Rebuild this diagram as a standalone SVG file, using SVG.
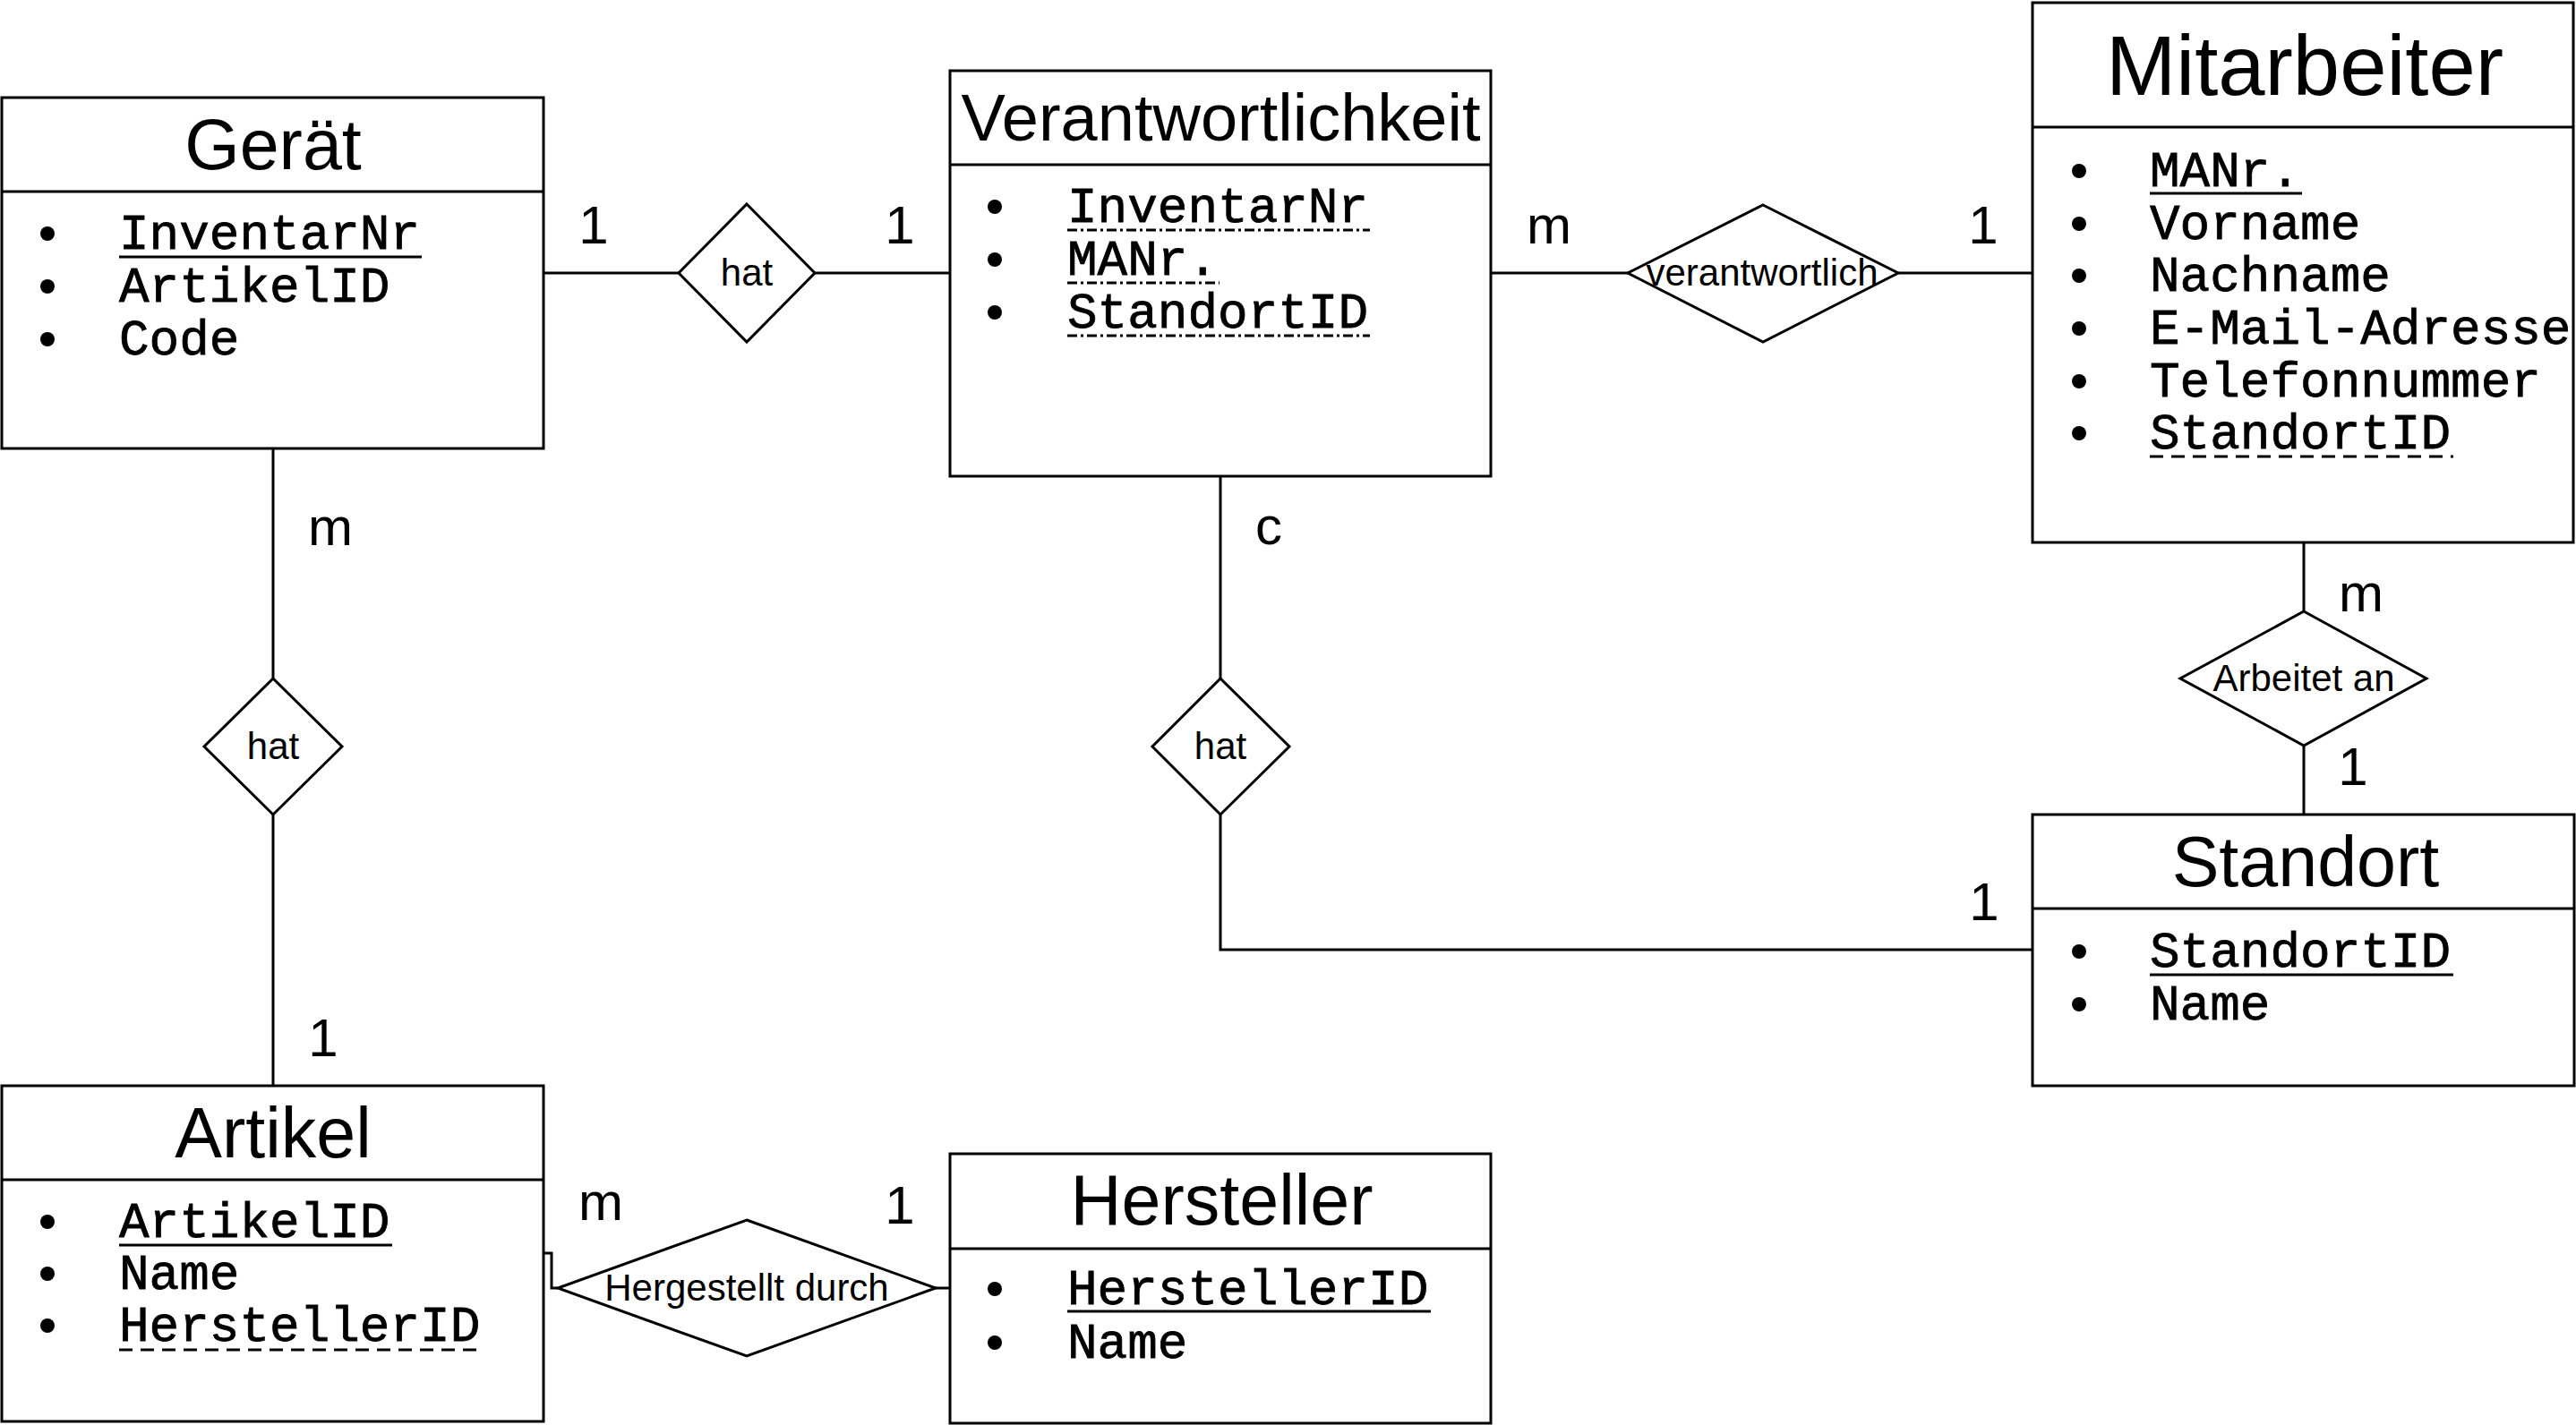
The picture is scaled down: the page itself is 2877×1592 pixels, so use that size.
<svg xmlns="http://www.w3.org/2000/svg" width="2877" height="1592" viewBox="0 0 2877 1592">
<style>
.box{fill:#fff;stroke:#000;stroke-width:3}
.hl{stroke:#000;stroke-width:3}
.dia{fill:#fff;stroke:#000;stroke-width:3}
.con{fill:none;stroke:#000;stroke-width:3}
.title{font-family:"Liberation Sans",Arial,sans-serif;text-anchor:middle;fill:#000}
.attr{font-family:"Liberation Mono","Courier New",monospace;font-size:56px;fill:#000;stroke:#000;stroke-width:0.8}
.rel{font-family:"Liberation Sans",Arial,sans-serif;font-size:42px;text-anchor:middle;fill:#000}
.card{font-family:"Liberation Sans",Arial,sans-serif;font-size:60px;text-anchor:middle;fill:#000}
.ul{stroke:#000;stroke-width:3}
.ud{stroke:#000;stroke-width:3;stroke-dasharray:15 9}
.udd{stroke:#000;stroke-width:3;stroke-dasharray:11 4 3 4}
</style>
<rect width="2877" height="1592" fill="#fff"/>
<g id="connectors">
<path class="con" d="M607,305H758M910,305H1061"/>
<path class="con" d="M1665,305H1818M2120,305H2270"/>
<path class="con" d="M305,501V758M305,910V1213"/>
<path class="con" d="M1363,532V758M1363,910V1061H2270"/>
<path class="con" d="M2573,606V683M2573,833V910"/>
<path class="con" d="M607,1400H616V1439H623M1045,1439H1061"/>
</g>
<g id="cardinalities">
<text class="card" x="663" y="272">1</text>
<text class="card" x="1005" y="272">1</text>
<text class="card" x="1730" y="272">m</text>
<text class="card" x="2215" y="272">1</text>
<text class="card" x="369" y="609">m</text>
<text class="card" x="361" y="1180">1</text>
<text class="card" x="1417" y="608">c</text>
<text class="card" x="2216" y="1028">1</text>
<text class="card" x="2637" y="683">m</text>
<text class="card" x="2628" y="877">1</text>
<text class="card" x="671" y="1363">m</text>
<text class="card" x="1005" y="1367">1</text>
</g>
<g id="geraet">
<rect class="box" x="2" y="109" width="605" height="392"/>
<line class="hl" x1="2" y1="214" x2="607" y2="214"/>
<text class="title" x="305" y="189" font-size="79">Gerät</text>
<circle cx="53" cy="261" r="8"/><circle cx="53" cy="320" r="8"/><circle cx="53" cy="379" r="8"/>
<text class="attr" x="133" y="278">InventarNr</text>
<line class="ul" x1="133" y1="287" x2="471" y2="287"/>
<text class="attr" x="133" y="337">ArtikelID</text>
<text class="attr" x="133" y="396">Code</text>
</g>
<g id="verantwortlichkeit">
<rect class="box" x="1061" y="79" width="604" height="453"/>
<line class="hl" x1="1061" y1="184" x2="1665" y2="184"/>
<text class="title" x="1363.5" y="157" font-size="74">Verantwortlichkeit</text>
<circle cx="1111" cy="231" r="8"/><circle cx="1111" cy="290" r="8"/><circle cx="1111" cy="349" r="8"/>
<text class="attr" x="1192" y="248">InventarNr</text>
<line class="udd" x1="1192" y1="257" x2="1530" y2="257"/>
<text class="attr" x="1192" y="307">MANr.</text>
<line class="udd" x1="1192" y1="316" x2="1362" y2="316"/>
<text class="attr" x="1192" y="366">StandortID</text>
<line class="udd" x1="1192" y1="375" x2="1530" y2="375"/>
</g>
<g id="mitarbeiter">
<rect class="box" x="2270" y="3" width="604" height="603"/>
<line class="hl" x1="2270" y1="142" x2="2874" y2="142"/>
<text class="title" x="2574" y="106" font-size="94">Mitarbeiter</text>
<circle cx="2322" cy="191" r="8"/><circle cx="2322" cy="250" r="8"/><circle cx="2322" cy="308" r="8"/><circle cx="2322" cy="367" r="8"/><circle cx="2322" cy="426" r="8"/><circle cx="2322" cy="484" r="8"/>
<text class="attr" x="2401" y="208">MANr.</text>
<line class="ul" x1="2401" y1="216" x2="2571" y2="216"/>
<text class="attr" x="2401" y="267">Vorname</text>
<text class="attr" x="2401" y="325">Nachname</text>
<text class="attr" x="2401" y="384">E-Mail-Adresse</text>
<text class="attr" x="2401" y="443">Telefonnummer</text>
<text class="attr" x="2401" y="501">StandortID</text>
<line class="ud" x1="2401" y1="510" x2="2740" y2="510"/>
</g>
<g id="standort">
<rect class="box" x="2270" y="910" width="605" height="303"/>
<line class="hl" x1="2270" y1="1015" x2="2875" y2="1015"/>
<text class="title" x="2575" y="990" font-size="79">Standort</text>
<circle cx="2322" cy="1063" r="8"/><circle cx="2322" cy="1122" r="8"/>
<text class="attr" x="2401" y="1080">StandortID</text>
<line class="ul" x1="2401" y1="1089" x2="2740" y2="1089"/>
<text class="attr" x="2401" y="1139">Name</text>
</g>
<g id="artikel">
<rect class="box" x="2" y="1213" width="605" height="375"/>
<line class="hl" x1="2" y1="1318" x2="607" y2="1318"/>
<text class="title" x="305" y="1293" font-size="79">Artikel</text>
<circle cx="53" cy="1365" r="8"/><circle cx="53" cy="1423" r="8"/><circle cx="53" cy="1481" r="8"/>
<text class="attr" x="133" y="1382">ArtikelID</text>
<line class="ul" x1="133" y1="1391" x2="438" y2="1391"/>
<text class="attr" x="133" y="1440">Name</text>
<text class="attr" x="133" y="1498">HerstellerID</text>
<line class="ud" x1="133" y1="1508" x2="540" y2="1508"/>
</g>
<g id="hersteller">
<rect class="box" x="1061" y="1289" width="604" height="301"/>
<line class="hl" x1="1061" y1="1395" x2="1665" y2="1395"/>
<text class="title" x="1364.5" y="1368" font-size="79">Hersteller</text>
<circle cx="1111" cy="1440" r="8"/><circle cx="1111" cy="1500" r="8"/>
<text class="attr" x="1192" y="1457">HerstellerID</text>
<line class="ul" x1="1192" y1="1465" x2="1598" y2="1465"/>
<text class="attr" x="1192" y="1517">Name</text>
</g>
<g id="rel-hat-geraet-verantwortlichkeit">
<polygon class="dia" points="834,228 910,305 834,382 758,305"/>
<text class="rel" x="834" y="319">hat</text>
</g>
<g id="rel-verantwortlich">
<polygon class="dia" points="1969,229 2120,305 1969,382 1818,305"/>
<text class="rel" x="1968" y="319">verantwortlich</text>
</g>
<g id="rel-arbeitet-an">
<polygon class="dia" points="2573,683 2710,758 2573,833 2435,758"/>
<text class="rel" x="2573" y="772">Arbeitet an</text>
</g>
<g id="rel-hat-geraet-artikel">
<polygon class="dia" points="305,758 382,834 305,910 228,834"/>
<text class="rel" x="305" y="848">hat</text>
</g>
<g id="rel-hat-verantwortlichkeit-standort">
<polygon class="dia" points="1363,758 1440,834 1363,910 1287,834"/>
<text class="rel" x="1363" y="848">hat</text>
</g>
<g id="rel-hergestellt-durch">
<polygon class="dia" points="834,1363 1045,1439 834,1515 623,1439"/>
<text class="rel" x="834" y="1453">Hergestellt durch</text>
</g>
</svg>
